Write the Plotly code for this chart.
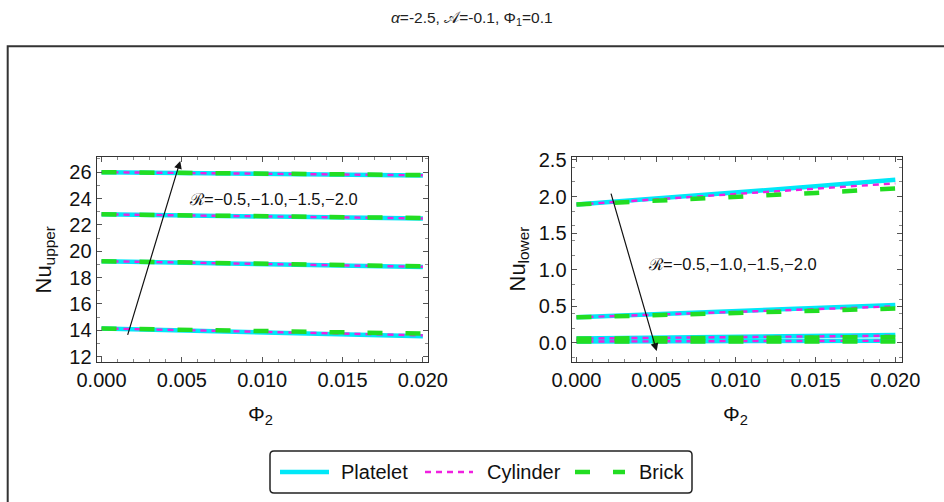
import plotly.graph_objects as go

# ---------------- data ----------------
phi2 = [0.0, 0.005, 0.010, 0.015, 0.020]

# Nu_upper for R = -0.5, -1.0, -1.5, -2.0 (bottom to top)
upper_platelet = [
    [14.15, 14.00, 13.85, 13.70, 13.55],
    [19.25, 19.14, 19.03, 18.92, 18.80],
    [22.80, 22.72, 22.65, 22.57, 22.48],
    [26.00, 25.94, 25.88, 25.81, 25.75],
]
upper_cylinder = [
    [14.15, 14.01, 13.88, 13.75, 13.62],
    [19.25, 19.14, 19.03, 18.92, 18.82],
    [22.80, 22.72, 22.65, 22.57, 22.49],
    [26.00, 25.94, 25.88, 25.82, 25.76],
]
upper_brick = [
    [14.15, 14.05, 13.95, 13.85, 13.75],
    [19.25, 19.15, 19.05, 18.95, 18.86],
    [22.80, 22.73, 22.66, 22.59, 22.52],
    [26.00, 25.95, 25.90, 25.84, 25.78],
]

# Nu_lower for R = -0.5, -1.0, -1.5, -2.0 (top to bottom)
lower_platelet = [
    [1.89, 1.97, 2.06, 2.14, 2.23],
    [0.35, 0.39, 0.43, 0.48, 0.52],
    [0.06, 0.07, 0.08, 0.10, 0.11],
    [0.02, 0.02, 0.03, 0.03, 0.03],
]
lower_cylinder = [
    [1.89, 1.96, 2.04, 2.11, 2.18],
    [0.35, 0.39, 0.42, 0.46, 0.50],
    [0.06, 0.07, 0.08, 0.09, 0.10],
    [0.02, 0.02, 0.03, 0.03, 0.03],
]
lower_brick = [
    [1.89, 1.94, 2.00, 2.05, 2.11],
    [0.35, 0.38, 0.41, 0.44, 0.47],
    [0.06, 0.065, 0.07, 0.075, 0.08],
    [0.02, 0.02, 0.02, 0.02, 0.02],
]

upper_yticks = [12, 14, 16, 18, 20, 22, 24, 26]
lower_yticks = [0.0, 0.5, 1.0, 1.5, 2.0, 2.5]
lower_yticklabels = ["0.0", "0.5", "1.0", "1.5", "2.0", "2.5"]
xticks = [0.0, 0.005, 0.010, 0.015, 0.020]
xticklabels = ["0.000", "0.005", "0.010", "0.015", "0.020"]
legend_names = ["Platelet", "Cylinder", "Brick"]

# ---------------- style ----------------
C_PLATE = "#00E8F8"
C_CYL = "#F020E0"
C_BRICK = "#22DD22"
FONT = "Liberation Sans, Arial, sans-serif"
W, H = 944, 502

def px(x):
    return x / W

def py(y):
    return 1 - y / H

styles = [
    dict(color=C_PLATE, width=4.5, dash="solid"),
    dict(color=C_CYL, width=2.4, dash="6px,5px"),
    dict(color=C_BRICK, width=4.5, dash="15px,23px"),
]

fig = go.Figure()

for name, up, lo, ln in zip(legend_names,
                            [upper_platelet, upper_cylinder, upper_brick],
                            [lower_platelet, lower_cylinder, lower_brick], styles):
    for ys in up:
        fig.add_trace(go.Scatter(x=phi2, y=ys, mode="lines", line=ln, name=name,
                                 showlegend=False, xaxis="x", yaxis="y"))
    for ys in lo:
        fig.add_trace(go.Scatter(x=phi2, y=ys, mode="lines", line=ln, name=name,
                                 showlegend=False, xaxis="x2", yaxis="y2"))

axis_common = dict(
    showline=True, linecolor="#333", linewidth=1.3, mirror="ticks",
    ticks="inside", ticklen=5, tickcolor="#555", showgrid=False, zeroline=False,
    automargin=False,
    tickfont=dict(family=FONT, size=20, color="#111"),
    minor=dict(ticks="inside", ticklen=3, tickcolor="#888", nticks=5),
)

y0 = py(362)
y1 = py(157)

fig.update_layout(
    template="none",
    width=W, height=H,
    margin=dict(l=0, r=0, t=0, b=0, autoexpand=False),
    paper_bgcolor="white", plot_bgcolor="white",
    font=dict(family=FONT, color="#111"),
    xaxis=dict(domain=[px(96.7), px(427.7)], range=[-0.0003, 0.0203],
               tickvals=xticks, ticktext=xticklabels, anchor="y", **axis_common),
    yaxis=dict(domain=[y0, y1], range=[11.6, 27.15], tickvals=upper_yticks,
               anchor="x", **axis_common),
    xaxis2=dict(domain=[px(571.7), px(901.7)], range=[-0.0003, 0.0204],
                tickvals=xticks, ticktext=xticklabels, anchor="y2", **axis_common),
    yaxis2=dict(domain=[y0, y1], range=[-0.26, 2.54], tickvals=lower_yticks,
                ticktext=lower_yticklabels, anchor="x2", **axis_common),
    showlegend=False,
)

annotations = [
    dict(text="<i>α</i>=-2.5, 𝒜=-0.1, Φ<sub>1</sub>=0.1", x=0.5, y=py(19), xref="paper", yref="paper",
         showarrow=False, font=dict(family=FONT, size=15.5, color="#222"), xanchor="center", yanchor="middle"),
    dict(text="Nu<sub>upper</sub>", x=px(44), y=(y0 + y1) / 2, xref="paper", yref="paper",
         xanchor="center", yanchor="middle",
         textangle=-90, showarrow=False, font=dict(family=FONT, size=22, color="#111")),
    dict(text="Nu<sub>lower</sub>", x=px(518), y=(y0 + y1) / 2, xref="paper", yref="paper",
         xanchor="center", yanchor="middle",
         textangle=-90, showarrow=False, font=dict(family=FONT, size=22, color="#111")),
    dict(text="Φ<sub>2</sub>", x=px(260), y=py(400), xref="paper", yref="paper",
         xanchor="center", yanchor="top",
         showarrow=False, font=dict(family=FONT, size=21, color="#111")),
    dict(text="Φ<sub>2</sub>", x=px(735), y=py(400), xref="paper", yref="paper",
         xanchor="center", yanchor="top",
         showarrow=False, font=dict(family=FONT, size=21, color="#111")),
    dict(text="ℛ=−0.5,−1.0,−1.5,−2.0", x=0.0107, y=24.0, xref="x", yref="y",
         showarrow=False, font=dict(family=FONT, size=16.5, color="#111")),
    dict(text="ℛ=−0.5,−1.0,−1.5,−2.0", x=0.0098, y=1.08, xref="x2", yref="y2",
         showarrow=False, font=dict(family=FONT, size=16.5, color="#111")),
    # arrows
    dict(x=0.0049, y=26.85, ax=0.0016, ay=13.54, xref="x", yref="y", axref="x", ayref="y",
         text="", showarrow=True, arrowhead=2, arrowsize=1.3, arrowwidth=1.2, arrowcolor="#111"),
    dict(x=0.00503, y=-0.11, ax=0.00214, ay=2.06, xref="x2", yref="y2", axref="x2", ayref="y2",
         text="", showarrow=True, arrowhead=2, arrowsize=1.3, arrowwidth=1.2, arrowcolor="#111"),
]

# ----- custom legend (box, sample lines, labels) -----
legend_y = 472
sym_x = [(280, 329), (425, 473), (575, 625)]
label_x = [339, 485, 637]
shapes = []
for (sx0, sx1), lx, name, ln in zip(sym_x, label_x, legend_names, styles):
    shapes.append(dict(type="line", xref="paper", yref="paper", x0=px(sx0), x1=px(sx1),
                       y0=py(legend_y), y1=py(legend_y), line=ln))
    annotations.append(dict(text=name, x=px(lx), y=py(legend_y), xref="paper", yref="paper",
                            xanchor="left", yanchor="middle", showarrow=False,
                            font=dict(family=FONT, size=20, color="#111")))

# legend box with rounded corners
bx0, bx1, by0, by1, r = 270, 692, 451, 493, 4
path = (f"M {bx0+r},{by0} L {bx1-r},{by0} Q {bx1},{by0} {bx1},{by0+r} "
        f"L {bx1},{by1-r} Q {bx1},{by1} {bx1-r},{by1} L {bx0+r},{by1} "
        f"Q {bx0},{by1} {bx0},{by1-r} L {bx0},{by0+r} Q {bx0},{by0} {bx0+r},{by0} Z")

def path_px_to_paper(p):
    out = []
    for tok in p.split():
        if "," in tok:
            a, b = tok.split(",")
            out.append(f"{px(float(a)):.5f},{py(float(b)):.5f}")
        else:
            out.append(tok)
    return " ".join(out)

shapes.insert(0, dict(type="path", xref="paper", yref="paper", path=path_px_to_paper(path),
                      line=dict(color="#222", width=1.5), fillcolor="white", layer="below"))

# outer frame
shapes.append(dict(type="rect", xref="paper", yref="paper", x0=px(7.7), x1=1.05, y0=-0.05, y1=py(46.3),
                   line=dict(color="#333", width=2), layer="below"))

fig.update_layout(annotations=annotations, shapes=shapes)

fig.write_html("out.html")
